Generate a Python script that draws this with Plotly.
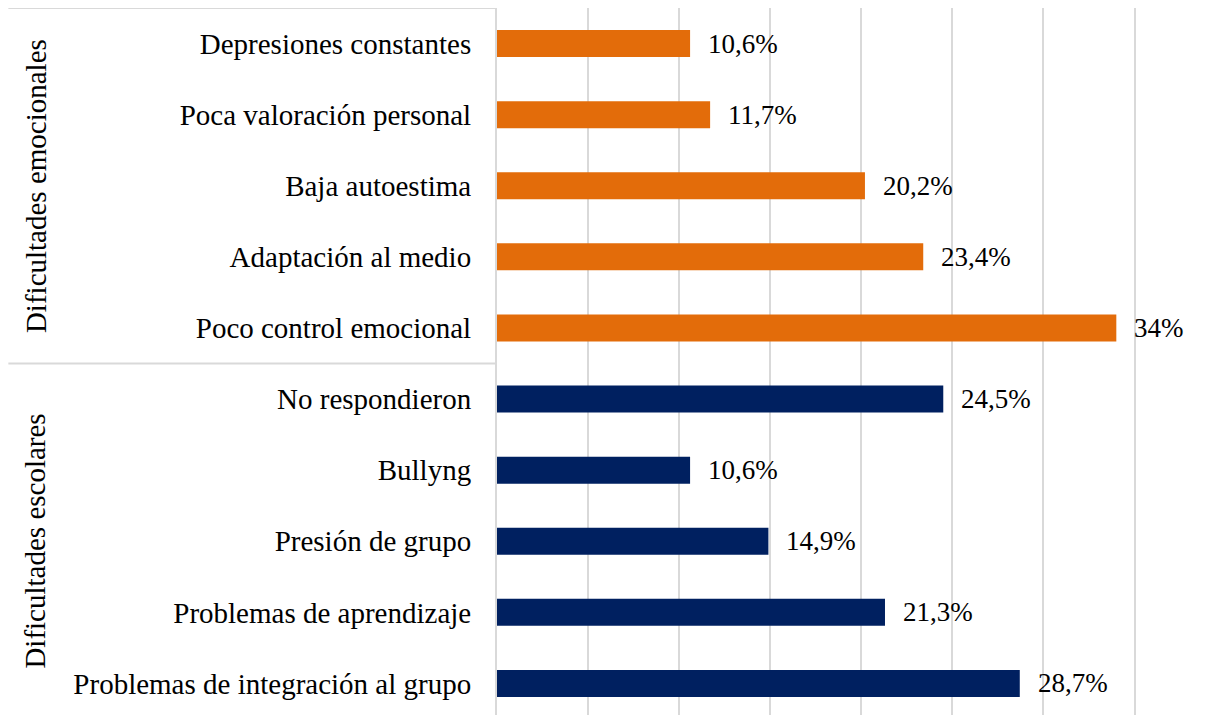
import plotly.graph_objects as go

categories = [
    "Depresiones constantes",
    "Poca valoración personal",
    "Baja autoestima",
    "Adaptación al medio",
    "Poco control emocional",
    "No respondieron",
    "Bullyng",
    "Presión de grupo",
    "Problemas de aprendizaje",
    "Problemas de integración al grupo",
]
values = [10.6, 11.7, 20.2, 23.4, 34.0, 24.5, 10.6, 14.9, 21.3, 28.7]
groups = ["Dificultades emocionales"] * 5 + ["Dificultades escolares"] * 5
group_names = ["Dificultades emocionales", "Dificultades escolares"]
group_colors = {"Dificultades emocionales": "#E36C0A", "Dificultades escolares": "#002060"}

W, H = 1213, 715
XMAX = 35.3
L, T, B = 489, 0, 0
PW = (1127 - L) * XMAX / 35.0
R = W - L - PW
FONT = "Liberation Serif, Times New Roman, serif"
FS = 29
FSV = 27

def fmt(v):
    if abs(v - round(v)) < 1e-9:
        return f"{int(round(v))}%"
    return f"{v:.1f}%".replace(".", ",")

fig = go.Figure()
fig.add_trace(go.Bar(
    x=values, y=categories, orientation="h",
    marker=dict(color=[group_colors[g] for g in groups], line=dict(width=0)),
    width=0.38, showlegend=False, hoverinfo="x+y",
))

ann = []
for c, v in zip(categories, values):
    ann.append(dict(x=v, y=c, text=fmt(v), xanchor="left", yanchor="middle",
                    xshift=16, showarrow=False, font=dict(family=FONT, size=FSV, color="#000000")))

def px_to_paper(px):
    return (px - L) / PW

for gname in group_names:
    idx = [i for i, g in enumerate(groups) if g == gname]
    mid = categories[idx[len(idx) // 2]]
    ann.append(dict(x=px_to_paper(27), xref="paper", y=mid, yref="y", text=gname,
                    textangle=-90, showarrow=False, xanchor="center", yanchor="middle",
                    font=dict(family=FONT, size=FS, color="#000000")))

shapes = [
    dict(type="line", xref="paper", yref="paper", x0=px_to_paper(0), x1=0, y0=1, y1=1,
         line=dict(color="#D9D9D9", width=2)),
    dict(type="line", xref="paper", yref="y", x0=px_to_paper(0), x1=0, y0=4.5, y1=4.5,
         line=dict(color="#D9D9D9", width=2)),
]

fig.update_layout(
    width=W, height=H,
    margin=dict(l=L, r=R, t=T, b=B, autoexpand=False),
    paper_bgcolor="white", plot_bgcolor="white",
    font=dict(family=FONT, size=FS, color="#000000"),
    annotations=ann, shapes=shapes,
    xaxis=dict(range=[0, XMAX], dtick=5, tick0=0, showgrid=True, gridcolor="#D9D9D9", gridwidth=1.5,
               showticklabels=False, zeroline=False, showline=False, fixedrange=True),
    yaxis=dict(type="category", categoryorder="array", categoryarray=categories, automargin=False,
               range=[9.556, -0.5], showgrid=False, showline=True, linecolor="#D9D9D9", linewidth=2,
               ticks="", ticklabelstandoff=18, tickfont=dict(family=FONT, size=FS, color="#000000")),
)

fig.write_html("out.html")
